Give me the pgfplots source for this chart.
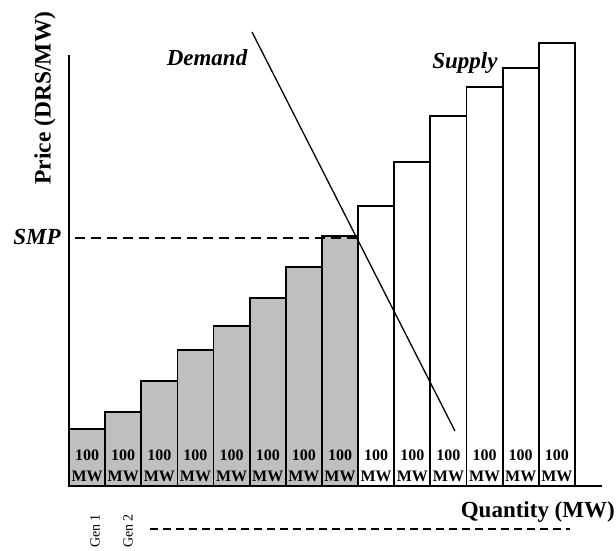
\documentclass[border=0pt]{standalone}
\usepackage{pgfplots}
\pgfplotsset{compat=1.18}
\usepackage{fontspec}
\setmainfont{Liberation Serif}
\begin{document}
\begin{tikzpicture}
\begin{axis}[
  scale only axis,
  x=0.3614pt, y=1pt,
  xmin=0, xmax=1475, ymin=0, ymax=431,
  axis lines=left,
  axis line style={-, line width=1.6pt},
  xtick=\empty, ytick=\empty,
  clip=false,
]
% Gray (dispatched) generators
\addplot[ybar, bar width=36.14pt, bar shift=0pt, fill=black!25, draw=black, line width=1.8pt]
  coordinates {(50,57) (150,74) (250,105) (350,136) (450,160) (550,188) (650,219) (750,250)};
% White (not dispatched) generators
\addplot[ybar, bar width=36.14pt, bar shift=0pt, fill=white, draw=black, line width=1.8pt]
  coordinates {(850,280) (950,324) (1050,370) (1150,399) (1250,418) (1350,443)};
% Capacity labels
\addplot[draw=none, mark=none, nodes near coords={100\\MW},
  every node near coord/.append style={anchor=center, align=center, font=\fontsize{16}{21.5}\selectfont\bfseries, inner sep=0pt}]
  coordinates {(50,20) (150,20) (250,20) (350,20) (450,20) (550,20) (650,20) (750,20)
               (850,20) (950,20) (1050,20) (1150,20) (1250,20) (1350,20)};
% Demand curve
\addplot[black, line width=1.3pt] coordinates {(506.4,454) (1068,55)};
% SMP line
\addplot[black, line width=2.8pt, dash pattern=on 10pt off 6pt] coordinates {(16.6,248) (797,248)};
% Gen dashed line
\addplot[black, line width=1.8pt, dash pattern=on 8pt off 5pt] coordinates {(224,-43) (1386,-43)};

\node[rotate=90, font=\fontsize{23.5}{27}\selectfont\bfseries] at (axis cs:-66.4,388) {Price (DRS/MW)};
\node[anchor=east, inner sep=0pt, font=\fontsize{23}{27}\selectfont\bfseries] at (axis cs:1510.8,-26) {Quantity (MW)};
\node[font=\fontsize{23}{27}\selectfont\bfseries\itshape] at (axis cs:381.9,428) {Demand};
\node[font=\fontsize{23}{27}\selectfont\bfseries\itshape] at (axis cs:1095.7,423) {Supply};
\node[font=\fontsize{23}{27}\selectfont\bfseries\itshape] at (axis cs:-88.5,249) {SMP};
\node[rotate=90, font=\fontsize{14}{16}\selectfont] at (axis cs:71.9,-45) {Gen 1};
\node[rotate=90, font=\fontsize{14}{16}\selectfont] at (axis cs:163.3,-45) {Gen 2};

\coordinate (bl) at (axis cs:-190.9,-64);
\coordinate (tr) at (axis cs:1513.6,486);
\end{axis}
\pgfresetboundingbox
\useasboundingbox (bl) rectangle (tr);
\end{tikzpicture}
\end{document}
